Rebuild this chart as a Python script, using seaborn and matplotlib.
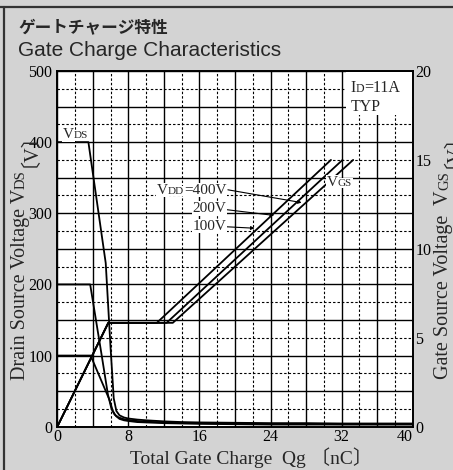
import numpy as np
import pandas as pd
import matplotlib
matplotlib.use("Agg")
import matplotlib.pyplot as plt
import matplotlib.transforms as mtransforms
from matplotlib.lines import Line2D
from matplotlib.patches import Rectangle
import seaborn as sns

# ---------------- data ----------------
qg_vds_400 = [0, 3.5, 5.45, 6.0, 6.35, 6.65, 7.0, 7.5, 8, 9, 10, 12, 14, 16, 20, 24, 28, 32, 36, 40]
vds_400    = [400, 400, 230, 110, 40, 22, 16, 13, 11.5, 10, 9, 7.5, 6.5, 6, 5.5, 5, 5, 4.5, 4.5, 4.5]
qg_vds_200 = [0, 3.7, 5.0, 5.7, 6.1, 6.45, 6.9, 7.5, 8, 9, 10, 12, 14, 16, 20, 24, 28, 32, 36, 40]
vds_200    = [200, 200, 100, 45, 25, 17, 13, 10.5, 9.5, 8, 7, 6, 5.5, 5, 4.5, 4, 4, 3.5, 3.5, 3.5]
qg_vds_100 = [0, 3.75, 5.9, 6.25, 6.6, 7.0, 7.5, 8, 9, 10, 12, 14, 16, 20, 24, 28, 32, 36, 40]
vds_100    = [100, 100, 37, 22, 15, 11, 9, 8, 6.5, 6, 5, 4.5, 4, 3.5, 3, 3, 3, 3, 3]

qg_vgs_400 = [0, 5.74, 13.0, 33.3]
qg_vgs_200 = [0, 5.74, 12.3, 32.1]
qg_vgs_100 = [0, 5.74, 11.2, 30.8]
vgs_pts    = [0, 5.84, 5.84, 15.0]

x_ticks = [0, 8, 16, 24, 32, 40]
y_left_ticks = [0, 100, 200, 300, 400, 500]
y_right_ticks = [0, 5, 10, 15, 20]

title_jp = "ゲートチャージ特性"
title_en = "Gate Charge Characteristics"

# ---------------- style ----------------
sns.set_theme(style="white")
SERIF = ["Liberation Serif", "Noto Sans CJK JP"]
plt.rcParams["font.family"] = SERIF
BG = "#d3d3d3"

W, H = 453, 470
fig = plt.figure(figsize=(W / 100, H / 100), dpi=100, facecolor=BG)
L, R, T, B = 57.3, 412.7, 71.0, 426.7
ax = fig.add_axes([L / W, 1 - B / H, (R - L) / W, (B - T) / H])
ax.set_facecolor("white")
ax2 = ax.twinx()

# grid (major solid, minor dashed)
ax.set_xlim(0, 40)
ax.set_ylim(0, 500)
ax2.set_ylim(0, 20)
ax.set_xticks(np.arange(0, 41, 4))
ax.set_xticks(np.arange(2, 40, 4), minor=True)
ax.set_yticks(np.arange(0, 501, 50))
ax.set_yticks(np.arange(25, 500, 50), minor=True)
ax.set_xticklabels([str(v) if v in x_ticks else "" for v in range(0, 41, 4)])
ax.set_yticklabels([str(v) if v in y_left_ticks else "" for v in range(0, 501, 50)])
ax2.set_yticks(y_right_ticks)
ax.set_axisbelow(True)
ax.grid(which="major", color="black", lw=1.0, ls="-")
ax.grid(which="minor", color="black", lw=0.8, ls=(0, (2.2, 1.8)))
ax2.grid(False)
for a in (ax, ax2):
    a.tick_params(which="both", length=0, labelsize=11.5, colors="black")
    for s in a.spines.values():
        s.set_color("black")
        s.set_linewidth(1.2)
ax.tick_params(axis="y", pad=3.5)
ax.tick_params(axis="x", pad=2)
ax2.tick_params(axis="y", pad=2)
for lab in ax.get_xticklabels() + ax.get_yticklabels() + ax2.get_yticklabels():
    lab.set_family(SERIF)
ax.get_xticklabels()[-1].set_horizontalalignment("right")

ax2.set_zorder(ax.get_zorder() + 1)
ax2.patch.set_visible(False)

# curves
lw = 1.3
for q, v in [(qg_vds_400, vds_400), (qg_vds_200, vds_200), (qg_vds_100, vds_100)]:
    sns.lineplot(x=q, y=v, ax=ax, color="black", lw=lw, sort=False, estimator=None, zorder=3)
for q in [qg_vgs_400, qg_vgs_200, qg_vgs_100]:
    sns.lineplot(x=q, y=vgs_pts, ax=ax2, color="black", lw=lw, sort=False, estimator=None, zorder=3)
ax.set_xlabel("")
ax.set_ylabel("")
ax2.set_ylabel("")
ax.set_xlim(0, 40)
ax.set_ylim(0, 500)
ax2.set_ylim(0, 20)

# white box for ID label, drawn above the axes content (inside the spines)
fig.add_artist(Rectangle((32.5, 438), 7.4, 61.0, transform=ax.transData,
                         facecolor="white", edgecolor="none", zorder=4))

renderer = fig.canvas.get_renderer()


def measure(s, size):
    t = fig.text(0, 0, s, fontsize=size, family=SERIF)
    w = t.get_window_extent(renderer).width
    t.remove()
    return w


def compound(x, y, pieces, transform, rotation=0, align="center", bg=None, zorder=5):
    """pieces: list of (text, size, gap_before_px). Baseline-aligned chain."""
    widths = [measure(s, sz) for s, sz, g in pieces]
    total = sum(widths) + sum(g for _, _, g in pieces)
    start = {"center": -total / 2, "left": 0, "right": -total}[align]
    pos = start
    th = np.deg2rad(rotation)
    for (s, sz, g), w in zip(pieces, widths):
        pos += g
        dx, dy = pos * np.cos(th), pos * np.sin(th)
        tr = transform + mtransforms.Affine2D().translate(dx, dy)
        kw = {}
        if bg:
            kw["bbox"] = dict(facecolor=bg, edgecolor="none", pad=0.6)
        fig.text(x, y, s, fontsize=sz, family=SERIF, transform=tr, rotation=rotation,
                 rotation_mode="anchor", ha="left", va="baseline", zorder=zorder, **kw)
        pos += w


# titles
fig.text(18 / W, 1 - 27 / H, title_jp, fontsize=12, fontweight="bold",
         family=["Noto Sans CJK JP"], va="center", ha="left")
fig.text(18 / W, 1 - 50 / H, title_en, fontsize=15, family=["Liberation Sans"],
         va="center", ha="left")

# axis labels
fig.text(251 / W, 1 - 458 / H, "Total Gate Charge  Qg 〔nC〕", fontsize=14,
         ha="center", va="center", family=SERIF)
compound(25 / W, 1 - 246 / H, [("Drain Source Voltage V", 14.5, 0), ("DS", 10.5, 0), ("〔V〕", 14.5, 3)],
         fig.transFigure, rotation=90)
compound(448 / W, 1 - 246 / H, [("Gate Source Voltage  V", 14.5, 0), ("GS", 10.5, 0), ("〔V〕", 14.5, 3)],
         fig.transFigure, rotation=90)

# in-plot labels
compound(0.65, 406, [("V", 11, 0), ("DS", 8, 0)], ax.transData, align="left", bg="white")
compound(11.2, 327.5, [("V", 11, 0), ("DD", 8, 0), ("=400V", 11, 0)], ax.transData, align="left", bg="white")
compound(15.2, 301.5, [("200V", 11, 0)], ax.transData, align="left", bg="white")
compound(15.2, 277, [("100V", 11, 0)], ax.transData, align="left", bg="white")
compound(30.35, 339, [("V", 11, 0), ("GS", 8, 0)], ax.transData, align="left", bg="white")
compound(33.0, 471, [("I", 11.5, 0), ("D", 8.5, 0), ("=11A", 11.5, 0)], ax.transData, align="left")
compound(33.0, 444, [("TYP", 11.5, 0)], ax.transData, align="left")

# leader lines
arrow_kw = dict(arrowstyle="-|>", color="black", lw=0.8, mutation_scale=5, shrinkA=0, shrinkB=0)
ax.annotate("", xy=(27.5, 315), xytext=(19.2, 333), arrowprops=arrow_kw, zorder=4)
ax.annotate("", xy=(24.4, 297), xytext=(19.1, 305), arrowprops=arrow_kw, zorder=4)
ax.annotate("", xy=(22.2, 279), xytext=(19.1, 281), arrowprops=arrow_kw, zorder=4)

# frame lines of the figure
fig.add_artist(Line2D([0, 1], [1 - 6.5 / H, 1 - 6.5 / H], transform=fig.transFigure, color="#333333", lw=1.6))
fig.add_artist(Line2D([4 / W, 4 / W], [0, 1 - 6.5 / H], transform=fig.transFigure, color="#333333", lw=1.6))

fig.savefig("out.png", dpi=100, facecolor=BG)
